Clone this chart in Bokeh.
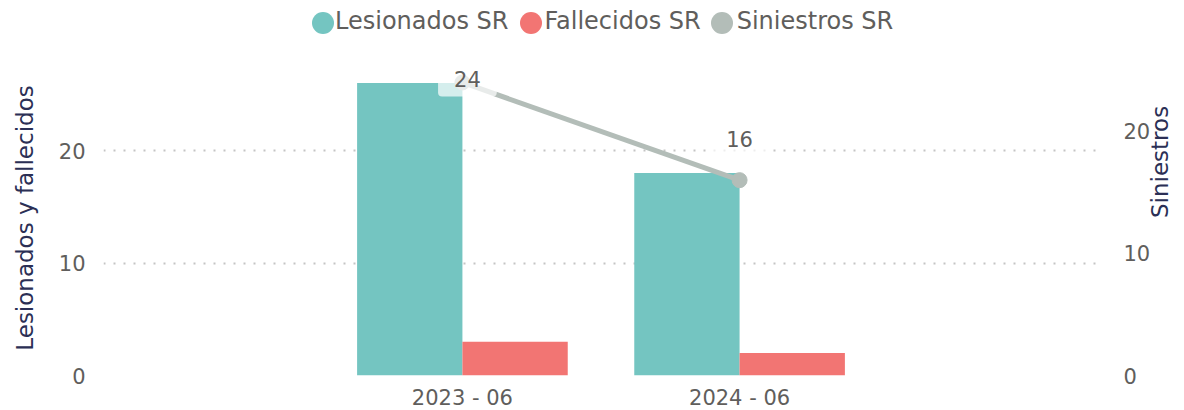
import math
from bokeh.plotting import figure
from bokeh.layouts import column
from bokeh.models import (ColumnDataSource, FactorRange, Range1d, LinearAxis, Legend,
                          LegendItem, FixedTicker)
from bokeh.transform import dodge
from bokeh.core.properties import value
from bokeh.embed import file_html
from bokeh.resources import INLINE

# ---- data ----
periodos = ["2023 - 06", "2024 - 06"]
lesionados = [26, 18]
fallecidos = [3, 2]
siniestros = [24, 16]
left_ticks = [0, 10, 20]
right_ticks = [0, 10, 20]
series_names = ["Lesionados SR", "Fallecidos SR", "Siniestros SR"]

# ---- styles ----
TEAL = "#74C5C1"
RED = "#F27573"
GREY = "#B3BDB8"
TXT = "#605E5C"
NAVY = "#2B2F55"
FONT = "DejaVu Sans"
label_dx = [5, 0]
label_dy = [-3, -41]
legend_dot_x = [192, 399.5, 590.5]   # legend marker boxes, px from frame left

src = ColumnDataSource(dict(
    periodo=periodos, les=lesionados, fal=fallecidos, sin=siniestros,
    sin_txt=[str(v) for v in siniestros], dx=label_dx, dy=label_dy,
))

# ---------- main chart ----------
p = figure(frame_width=995, frame_height=315, output_backend="svg", toolbar_location=None,
           x_range=FactorRange(factors=periodos, range_padding=0.795,
                               range_padding_units="absolute"),
           y_range=Range1d(0, 28),
           min_border_left=103, min_border_right=86, min_border_top=15,
           min_border_bottom=35)
p.outline_line_color = None
p.background_fill_color = "white"
p.border_fill_color = "white"
p.extra_y_ranges = {"right": Range1d(0, 25.8)}

p.vbar(x=dodge("periodo", -0.19, range=p.x_range), top="les", width=0.38,
       source=src, color=TEAL, line_color=None)
p.vbar(x=dodge("periodo", 0.19, range=p.x_range), top="fal", width=0.38,
       source=src, color=RED, line_color=None)

p.line(x="periodo", y="sin", source=src, y_range_name="right",
       line_color=GREY, line_width=5)
p.scatter(x="periodo", y="sin", source=src, y_range_name="right",
          size=15, color=GREY)
p.text(x="periodo", y="sin", text="sin_txt", source=src, y_range_name="right",
       x_offset="dx", y_offset="dy", text_align="center", text_baseline="middle",
       text_font=value(FONT), text_font_size="21px", text_color=TXT,
       background_fill_color="white", background_fill_alpha=0.7,
       padding=(16, 9), border_radius=4)

p.xaxis.major_label_text_font = FONT
p.xaxis.major_label_text_font_size = "21px"
p.xaxis.major_label_text_color = TXT
p.xaxis.axis_line_color = None
p.xaxis.major_tick_line_color = None
p.xaxis.minor_tick_line_color = None
p.xaxis.major_tick_out = 0
p.xaxis.minor_tick_out = 0
p.xaxis.major_label_standoff = 10
p.xgrid.grid_line_color = None

ly = p.yaxis[0]
ly.ticker = FixedTicker(ticks=left_ticks)
ly.axis_label = "Lesionados y fallecidos"
ly.axis_label_text_font = FONT
ly.axis_label_text_font_size = "23px"
ly.axis_label_text_font_style = "normal"
ly.axis_label_text_color = NAVY
ly.axis_label_standoff = 18
ly.major_label_text_font = FONT
ly.major_label_text_font_size = "21px"
ly.major_label_text_color = TXT
ly.major_label_standoff = 18
ly.axis_line_color = None
ly.major_tick_line_color = None
ly.minor_tick_line_color = None
ly.major_tick_out = 0
ly.minor_tick_out = 0

p.ygrid.ticker = FixedTicker(ticks=left_ticks)
p.ygrid.grid_line_color = "#C4C4C4"
p.ygrid.grid_line_dash = "2 8"
p.ygrid.grid_line_width = 2

ry = LinearAxis(y_range_name="right", ticker=FixedTicker(ticks=right_ticks))
ry.axis_label = "Siniestros"
ry.axis_label_orientation = math.pi / 2
ry.axis_label_text_font = FONT
ry.axis_label_text_font_size = "23px"
ry.axis_label_text_font_style = "normal"
ry.axis_label_text_color = NAVY
ry.axis_label_standoff = 7
ry.major_label_text_font = FONT
ry.major_label_text_font_size = "21px"
ry.major_label_text_color = TXT
ry.major_label_standoff = 25
ry.axis_line_color = None
ry.major_tick_line_color = None
ry.minor_tick_line_color = None
ry.major_tick_out = 0
ry.minor_tick_out = 0
p.add_layout(ry, "right")

# ---------- legend strip ----------
lg = figure(width=1184, height=45, output_backend="svg", toolbar_location=None,
            x_range=FactorRange(factors=periodos), y_range=Range1d(0, 30),
            min_border=0, x_axis_location=None, y_axis_location=None)
lg.outline_line_color = None
lg.grid.visible = False

common = dict(padding=0, margin=0, border_line_alpha=0, background_fill_alpha=0,
              inactive_fill_alpha=0, label_text_font=FONT, label_height=22)

# text entries (with invisible markers)
text_items = []
for name, col in zip(series_names, ["les", "fal", "sin"]):
    r = lg.scatter(x="periodo", y=col, source=src, fill_alpha=0, line_alpha=0,
                   visible=False)
    text_items.append(LegendItem(label=name, renderers=[r]))
lg.add_layout(Legend(items=text_items, orientation="horizontal", location=(219, 10),
                     glyph_width=1, glyph_height=22, label_standoff=12, spacing=23,
                     label_text_color=TXT, label_text_font_size="24px", **common),
              "center")

# coloured dots, one marker-only legend each
for col, c, lx in zip(["les", "fal", "sin"], [TEAL, RED, GREY], legend_dot_x):
    r = lg.scatter(x="periodo", y=col, source=src, color=c, line_color=None,
                   visible=False)
    lg.add_layout(Legend(items=[LegendItem(label=" ", renderers=[r])],
                         location=(lx, -5), glyph_width=55, glyph_height=55,
                         label_standoff=0, label_text_alpha=0,
                         label_text_font_size="2px", **common), "center")

layout = column(lg, p, spacing=0)
open("out.html", "w").write(file_html(layout, INLINE))
